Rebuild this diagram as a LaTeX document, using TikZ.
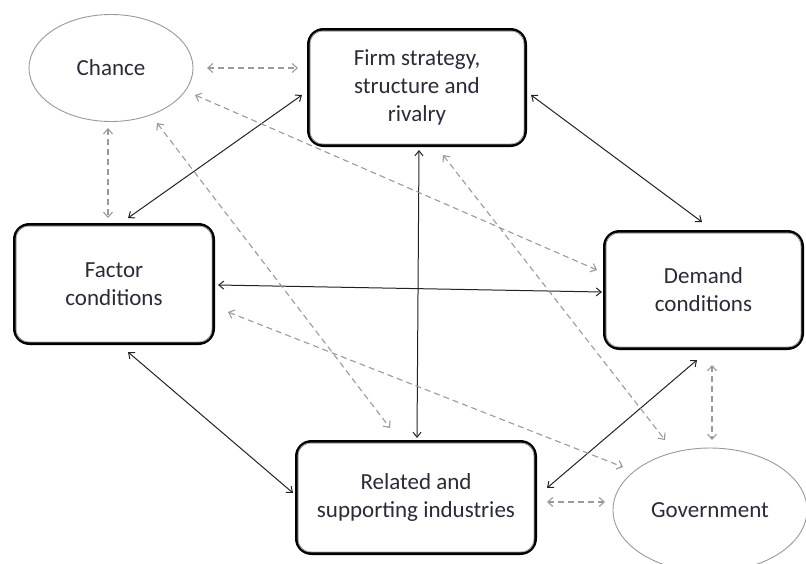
\documentclass[tikz,border=0pt]{standalone}
\usepackage{fontspec}
\setmainfont{Carlito}
\usetikzlibrary{arrows.meta,shapes.geometric}
\definecolor{txt}{HTML}{2A2A3A}
\definecolor{lnk}{HTML}{222222}
\definecolor{dsh}{HTML}{9A9A9A}
\definecolor{ell}{HTML}{999999}
\begin{document}
\begin{tikzpicture}[x=1pt,y=-1pt,
  box/.style={draw=black, line width=3pt, rounded corners=15pt, fill=white, inner sep=0pt,
    align=center, font=\fontsize{23}{28}\selectfont, text=txt},
  boxin/.style={draw=gray!65, line width=0.8pt, rounded corners=12pt},
  oval/.style={ellipse, draw=ell, line width=0.9pt, inner sep=0pt,
    font=\fontsize{23}{28}\selectfont, text=txt},
  link/.style={draw=lnk, line width=1pt,
    {Straight Barb[length=5pt,width=8pt]}-{Straight Barb[length=5pt,width=8pt]}},
  dlink/.style={draw=dsh, line width=1.1pt, dash pattern=on 6pt off 4pt,
    {Straight Barb[length=5pt,width=9pt]}-{Straight Barb[length=5pt,width=9pt]}}]
\useasboundingbox (0,0) rectangle (806,563);
\clip (0,0) rectangle (806,563);

% nodes
\node[box, minimum width=217pt, minimum height=116pt] (firm) at (417,87.5) {Firm strategy,\\structure and\\rivalry};
\node[box, minimum width=199pt, minimum height=119pt] (factor) at (114,284) {Factor\\conditions};
\node[box, minimum width=198pt, minimum height=117pt] (demand) at (703.5,290) {Demand\\conditions};
\node[box, minimum width=239pt, minimum height=112pt] (related) at (416,497.5) {Related and\\supporting industries};
\foreach \n in {firm,factor,demand,related}{
  \draw[boxin] ([shift={(3.1,3.1)}]\n.north west) rectangle ([shift={(-3.1,-3.1)}]\n.south east);
}
\node[oval, minimum width=164pt, minimum height=107pt] (chance) at (111,68) {Chance};
\node[oval, minimum width=194pt, minimum height=124pt] (gov) at (710,510) {Government};

% solid connectors
\draw[link] ([shift={(-115,7.5)}]firm.center) -- ([shift={(14,-66)}]factor.center);
\draw[link] ([shift={(114,7.5)}]firm.center) -- ([shift={(-1.5,-68)}]demand.center);
\draw[link] ([shift={(2,62.5)}]firm.center) -- ([shift={(1,-59.5)}]related.center);
\draw[link] ([shift={(104,1)}]factor.center) -- ([shift={(-101.5,2)}]demand.center);
\draw[link] ([shift={(14,68)}]factor.center) -- ([shift={(-123,-4.5)}]related.center);
\draw[link] ([shift={(-6.5,70)}]demand.center) -- ([shift={(131,-9.5)}]related.center);

% dashed connectors
\draw[dlink] ([shift={(96,0)}]chance.center) -- ([shift={(-119,-19.5)}]firm.center);
\draw[dlink] ([shift={(-3,60)}]chance.center) -- ([shift={(-6,-66)}]factor.center);
\draw[dlink] ([shift={(84,27)}]chance.center) -- ([shift={(-106.5,-20)}]demand.center);
\draw[dlink] ([shift={(46,55)}]chance.center) -- ([shift={(-26,-69.5)}]related.center);
\draw[dlink] ([shift={(26,67.5)}]firm.center) -- ([shift={(-45,-70)}]gov.center);
\draw[dlink] ([shift={(114,28)}]factor.center) -- ([shift={(-87,-43)}]gov.center);
\draw[dlink] ([shift={(8.5,75)}]demand.center) -- ([shift={(2,-70)}]gov.center);
\draw[dlink] ([shift={(131,4.5)}]related.center) -- ([shift={(-105,-8)}]gov.center);
\end{tikzpicture}
\end{document}
